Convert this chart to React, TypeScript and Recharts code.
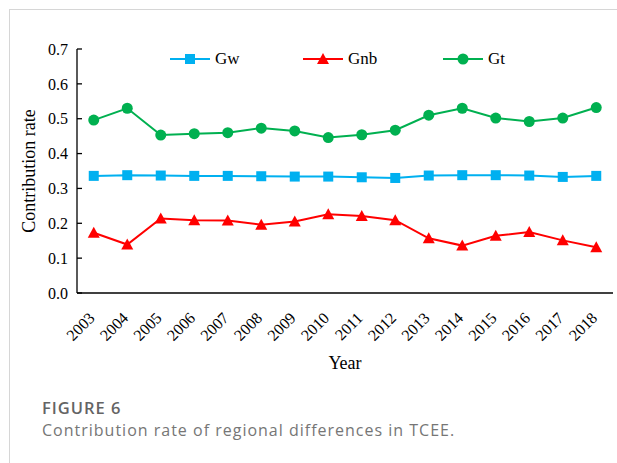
import React from "react";
import { LineChart, Line, XAxis, YAxis, Legend } from "recharts";

const years = [
  2003, 2004, 2005, 2006, 2007, 2008, 2009, 2010, 2011, 2012, 2013, 2014,
  2015, 2016, 2017, 2018,
];
const gwValues = [
  0.336, 0.338, 0.337, 0.336, 0.336, 0.335, 0.334, 0.334, 0.332, 0.33, 0.337,
  0.338, 0.338, 0.337, 0.333, 0.336,
];
const gnbValues = [
  0.173, 0.139, 0.214, 0.209, 0.208, 0.196, 0.205, 0.226, 0.221, 0.209, 0.157,
  0.136, 0.164, 0.175, 0.151, 0.131,
];
const gtValues = [
  0.496, 0.53, 0.453, 0.457, 0.46, 0.473, 0.465, 0.446, 0.454, 0.467, 0.51,
  0.53, 0.502, 0.492, 0.502, 0.532,
];
const yTicks = [0, 0.1, 0.2, 0.3, 0.4, 0.5, 0.6, 0.7];

const data = years.map((year, i) => ({
  year,
  Gw: gwValues[i],
  Gnb: gnbValues[i],
  Gt: gtValues[i],
}));

// tick marks sit between the years, like the Excel original
const boundaryTicks = [...years.map((y) => y - 0.5), years[years.length - 1] + 0.5];
const xDomain = [boundaryTicks[0], boundaryTicks[boundaryTicks.length - 1]];

type Shape = "square" | "triangle" | "circle";
const series: { key: string; color: string; shape: Shape }[] = [
  { key: "Gw", color: "#00B0F0", shape: "square" },
  { key: "Gnb", color: "#FF0000", shape: "triangle" },
  { key: "Gt", color: "#00B050", shape: "circle" },
];

const serif = "'Liberation Serif', 'Times New Roman', serif";
const legendLeft = [170, 303, 443];

const Marker = ({ cx, cy, shape, color }: { cx: number; cy: number; shape: Shape; color: string }) => {
  if (shape === "square")
    return <rect x={cx - 5} y={cy - 5} width={10} height={10} fill={color} />;
  if (shape === "triangle")
    return (
      <polygon
        points={`${cx},${cy - 6} ${cx + 6},${cy + 5} ${cx - 6},${cy + 5}`}
        fill={color}
      />
    );
  return <circle cx={cx} cy={cy} r={5.5} fill={color} />;
};

const LegendContent = () => (
  <div style={{ position: "relative", height: 20, fontFamily: serif, fontSize: 17 }}>
    {series.map((s, i) => (
      <div
        key={s.key}
        style={{ position: "absolute", left: legendLeft[i], top: 0, display: "flex", alignItems: "center", height: 20 }}
      >
        <svg width={40} height={20}>
          <line x1={0} y1={10} x2={40} y2={10} stroke={s.color} strokeWidth={2} />
          <Marker cx={20} cy={10} shape={s.shape} color={s.color} />
        </svg>
        <span style={{ marginLeft: 5, color: "#000" }}>{s.key}</span>
      </div>
    ))}
  </div>
);

const YearTick = ({ x, y, payload }: any) => (
  <text
    x={x + 2}
    y={y + 17}
    textAnchor="end"
    transform={`rotate(-45 ${x + 2} ${y + 17})`}
    fontFamily={serif}
    fontSize={16}
    fill="#000"
  >
    {payload.value}
  </text>
);

const YLabel = ({ viewBox }: any) => {
  const cx = 35;
  const cy = viewBox.y + viewBox.height / 2;
  return (
    <text
      x={cx}
      y={cy}
      transform={`rotate(-90 ${cx} ${cy})`}
      textAnchor="middle"
      fontFamily={serif}
      fontSize={18}
      fill="#000"
    >
      Contribution rate
    </text>
  );
};

export default function App() {
  return (
    <div style={{ position: "absolute", left: 0, top: 0, width: 617, height: 463, background: "#fff", overflow: "hidden" }}>
      <div
        style={{
          position: "absolute",
          left: 9,
          top: 9,
          width: 620,
          height: 460,
          borderTop: "1px solid #d6d6d6",
          borderLeft: "1px solid #d6d6d6",
        }}
      />
      <div style={{ position: "absolute", left: 0, top: 0 }}>
        <LineChart
          width={617}
          height={385}
          data={data}
          margin={{ top: 49, right: 4, left: 0, bottom: 15 }}
        >
          <XAxis
            xAxisId="grid"
            type="number"
            dataKey="year"
            domain={xDomain}
            ticks={boundaryTicks}
            interval={0}
            tick={false}
            tickSize={-5}
            height={1}
            allowDataOverflow
            axisLine={{ stroke: "#000", strokeWidth: 1.3 }}
            tickLine={{ stroke: "#000", strokeWidth: 1.3 }}
          />
          <XAxis
            xAxisId="lbl"
            type="number"
            dataKey="year"
            domain={xDomain}
            ticks={years}
            interval={0}
            axisLine={false}
            tickLine={false}
            tick={<YearTick />}
            height={76}
            label={{ value: "Year", position: "insideBottom", offset: 1, fontFamily: serif, fontSize: 18, fill: "#000" }}
          />
          <YAxis
            type="number"
            domain={[0, 0.7]}
            ticks={yTicks}
            interval={0}
            width={77}
            tickFormatter={(v: number) => v.toFixed(1)}
            tickSize={-5}
            tickMargin={14}
            tick={{ fontFamily: serif, fontSize: 16, fill: "#000" }}
            axisLine={{ stroke: "#000", strokeWidth: 1.3 }}
            tickLine={{ stroke: "#000", strokeWidth: 1.3 }}
            label={<YLabel />}
          />
          <Legend
            verticalAlign="middle"
            align="center"
            content={<LegendContent />}
            wrapperStyle={{ top: 49, left: 0, width: 617, height: 20 }}
          />
          {series.map((s) => (
            <Line
              key={s.key}
              xAxisId="grid"
              type="linear"
              dataKey={s.key}
              stroke={s.color}
              strokeWidth={2}
              isAnimationActive={false}
              dot={(p: any) => (
                <Marker key={`${s.key}-${p.index}`} cx={p.cx} cy={p.cy} shape={s.shape} color={s.color} />
              )}
              activeDot={false}
            />
          ))}
        </LineChart>
      </div>
      <div style={{ position: "absolute", left: 42, top: 397, fontFamily: "'Open Sans', sans-serif" }}>
        <div style={{ fontSize: 16.5, fontWeight: 600, lineHeight: "22px", letterSpacing: 1, color: "#646464" }}>
          FIGURE 6
        </div>
        <div style={{ fontSize: 16, lineHeight: "22px", letterSpacing: 1, color: "#767676" }}>
          Contribution rate of regional differences in TCEE.
        </div>
      </div>
    </div>
  );
}
